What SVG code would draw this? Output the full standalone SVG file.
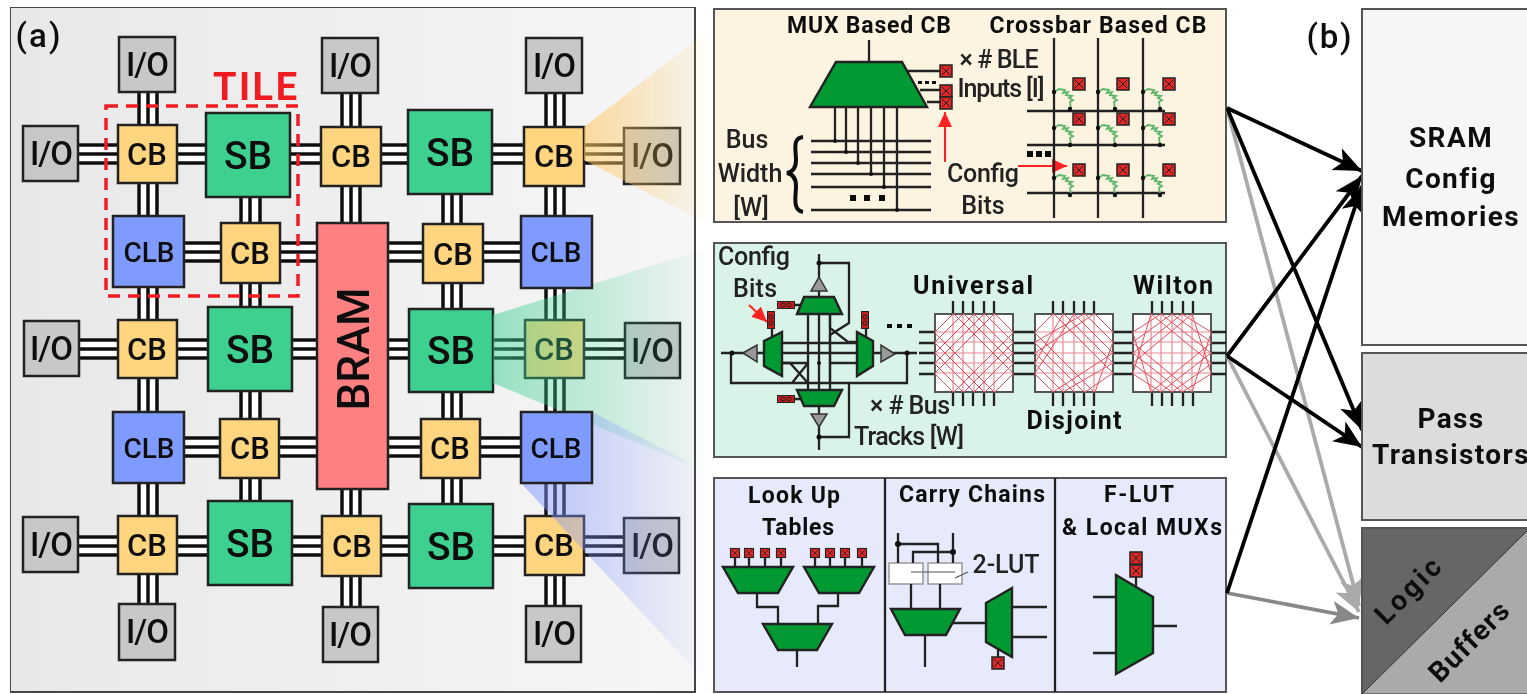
<svg xmlns="http://www.w3.org/2000/svg" width="1527" height="694" viewBox="0 0 1527 694">
<style>
text{font-family:"Roboto","Liberation Sans",sans-serif;fill:#111;text-anchor:middle;font-weight:500}
.n rect{stroke:#222;stroke-width:2.5}
.cb rect{fill:#ffd580}.cb text{font-size:31px}
.sb rect{fill:#3cd08f}.sb text{font-size:39px}
.clb rect{fill:#809bff}.clb text{font-size:28px}
.io rect{fill:#c8c8c8}.io text{font-size:33px;letter-spacing:-1px}
.bus{fill:none;stroke:#111;stroke-width:3.5}
.bg{stroke:#fff;stroke-width:22;fill:none}
.t{font-size:25px;fill:#222}
.h{font-weight:700;font-size:23px}
.h2{font-weight:700;font-size:25px}
.w{fill:none;stroke:#222;stroke-width:2.3}
.mux{fill:#009933;stroke:#222;stroke-width:2.4}
.tri{fill:#999;stroke:#333;stroke-width:1.5}
.panel{stroke:#555;stroke-width:2}
.dot{fill:#111}
.gn{fill:none;stroke:#5cb56a;stroke-width:1.8}
.sw{fill:#fff;stroke:#555;stroke-width:2}
.rd{fill:none;stroke:#e4505e;stroke-width:1}
.gr{fill:none;stroke:#eb8a92;stroke-width:1.2}
.mem{font-weight:700;font-size:28px;letter-spacing:1.4px}
.ar{fill:none;stroke-width:3.8}
.k{stroke:#000}.g{stroke:#aaa}.m{stroke:#888}
</style>
<defs>
<linearGradient id="pa" x1="0" x2="1" y1="0" y2="0"><stop offset="0" stop-color="#e8e8e8"/><stop offset="1" stop-color="#f6f6f6"/></linearGradient>
<linearGradient id="wo" gradientUnits="userSpaceOnUse" x1="584" x2="712" y1="0" y2="0"><stop offset="0" stop-color="#ffc864" stop-opacity=".6"/><stop offset="1" stop-color="#ffc864" stop-opacity="0"/></linearGradient>
<linearGradient id="wg" gradientUnits="userSpaceOnUse" x1="492" x2="712" y1="0" y2="0"><stop offset="0" stop-color="#3cd08f" stop-opacity=".5"/><stop offset="1" stop-color="#3cd08f" stop-opacity="0"/></linearGradient>
<linearGradient id="wb" gradientUnits="userSpaceOnUse" x1="520" x2="712" y1="0" y2="0"><stop offset="0" stop-color="#7f96ff" stop-opacity=".55"/><stop offset="1" stop-color="#7f96ff" stop-opacity="0"/></linearGradient>
<marker id="ak" markerUnits="userSpaceOnUse" markerWidth="32" markerHeight="28" refX="28" refY="14" orient="auto"><path d="M0 2L28 14L0 26L7 14Z" fill="#000"/></marker>
<marker id="ag" markerUnits="userSpaceOnUse" markerWidth="32" markerHeight="28" refX="28" refY="14" orient="auto"><path d="M0 2L28 14L0 26L7 14Z" fill="#aaa"/></marker>
<marker id="am" markerUnits="userSpaceOnUse" markerWidth="32" markerHeight="28" refX="28" refY="14" orient="auto"><path d="M0 2L28 14L0 26L7 14Z" fill="#888"/></marker>
<marker id="ar" markerUnits="userSpaceOnUse" markerWidth="16" markerHeight="14" refX="15" refY="7" orient="auto"><path d="M0 0L15 7L0 14Z" fill="#f22"/></marker>
<g id="bit"><rect x="-6" y="-6" width="12" height="12" fill="#e02828" stroke="#222" stroke-width="1.5"/><path d="M-4 -4L4 4M4 -4L-4 4" stroke="#222" stroke-width="1"/></g>
<g id="sb2"><rect x="-8.500" y="-3.500" width="17" height="7" fill="#c01c1c" stroke="#222"/><circle cx="-3" r="2" fill="none" stroke="#222"/><circle cx="3" r="2" fill="none" stroke="#222"/></g>
<path id="xtor" class="gn" d="M0 0L5 -3L11 -2L9 1L14 0L12 3L18 4L15 6L19 8L16 10L17 17"/>
<path id="grid" class="gr" d="M0 18H78M0 28H78M0 39H78M0 49H78M0 59H78M18 0V78M28 0V78M39 0V78M49 0V78M59 0V78"/>
<path id="uni" class="rd" d="M0 18L18 0M0 28L28 0M0 39L39 0M0 49L49 0M0 59L59 0M78 18L60 0M78 28L50 0M78 39L39 0M78 49L29 0M78 59L19 0M0 60L18 78M0 50L28 78M0 39L39 78M0 29L49 78M0 19L59 78M78 60L60 78M78 50L50 78M78 39L39 78M78 29L29 78M78 19L19 78"/>
<path id="dis" class="rd" d="M0 18L18 0M0 28L49 0M0 39L59 0M0 49L28 0M0 59L39 0M78 49L28 78M78 39L18 78M78 28L60 78M78 59L50 78M78 18L60 0M78 28L50 0M78 39L39 0M78 49L29 0M78 59L19 0M0 60L18 78M0 50L28 78M0 39L39 78M0 29L49 78M0 19L59 78"/>
<path id="wil" class="rd" d="M0 18L28 0M0 28L39 0M0 39L49 0M0 49L59 0M0 59L18 0M78 18L49 0M78 28L39 0M78 39L28 0M78 49L18 0M78 59L59 0M0 60L28 78M0 50L39 78M0 39L49 78M0 29L59 78M0 19L18 78M78 60L49 78M78 50L39 78M78 39L28 78M78 29L18 78M78 19L59 78"/>
<filter id="soft" x="0" y="0" width="100%" height="100%"><feGaussianBlur stdDeviation="0.45"/></filter>
</defs>
<rect width="1527" height="694" fill="#fff"/>
<g filter="url(#soft)">
<rect x="10" y="7" width="685" height="685" fill="url(#pa)" stroke="#444" stroke-width="2"/>

<g id="connectors-a">
<path class="bg" d="M78 154H624M184 252H521M79 349H625M184 447H521M78 546H624M148 92V604M250 197V501M351 93V607M452 194V504M555 93V606"/>
<path class="bus" d="M78 145H624M78 154H624M78 163H624M184 243H521M184 252H521M184 261H521M79 340H625M79 349H625M79 358H625M184 438H521M184 447H521M184 456H521M78 537H624M78 546H624M78 555H624"/>
<path class="bus" d="M139 92V604M148 92V604M157 92V604M241 197V501M250 197V501M260 197V501M342 93V607M351 93V607M360 93V607M443 194V504M452 194V504M461 194V504M546 93V606M555 93V606M564 93V606"/>
</g>

<g id="io-t1" class="n io"><rect x="119" y="37" width="56" height="55"/><text x="147" y="76">I/O</text></g>
<g id="io-t2" class="n io"><rect x="322" y="38" width="56" height="55"/><text x="350" y="77">I/O</text></g>
<g id="io-t3" class="n io"><rect x="526" y="38" width="56" height="55"/><text x="554" y="77">I/O</text></g>
<g id="io-l1" class="n io"><rect x="23" y="126" width="55" height="55"/><text x="51" y="165">I/O</text></g>
<g id="cb-11" class="n cb"><rect x="118" y="125" width="59" height="58"/><text x="147" y="165">CB</text></g>
<g id="sb-11" class="n sb"><rect x="206" y="113" width="84" height="84"/><text x="248" y="169">SB</text></g>
<g id="cb-12" class="n cb"><rect x="321" y="127" width="60" height="59"/><text x="351" y="167">CB</text></g>
<g id="sb-12" class="n sb"><rect x="408" y="110" width="84" height="84"/><text x="450" y="166">SB</text></g>
<g id="cb-13" class="n cb"><rect x="524" y="127" width="60" height="59"/><text x="554" y="167">CB</text></g>
<g id="io-r1" class="n io"><rect x="624" y="128" width="56" height="56"/><text x="652" y="167">I/O</text></g>

<g id="clb-21" class="n clb"><rect x="113" y="216" width="71" height="71"/><text x="149" y="262">CLB</text></g>
<g id="cb-21" class="n cb"><rect x="221" y="223" width="59" height="60"/><text x="250" y="264">CB</text></g>
<g id="bram" class="n"><rect x="317" y="223" width="71" height="266" fill="#ff8080"/><text transform="translate(369 349) rotate(-90)" font-size="44">BRAM</text></g>
<g id="cb-22" class="n cb"><rect x="423" y="224" width="60" height="59"/><text x="453" y="265">CB</text></g>

<g id="io-l3" class="n io"><rect x="24" y="321" width="55" height="55"/><text x="51" y="360">I/O</text></g>
<g id="cb-31" class="n cb"><rect x="118" y="320" width="59" height="58"/><text x="147" y="360">CB</text></g>
<g id="sb-31" class="n sb"><rect x="208" y="307" width="84" height="84"/><text x="250" y="363">SB</text></g>
<g id="sb-32" class="n sb"><rect x="409" y="309" width="84" height="83"/><text x="451" y="364">SB</text></g>
<g id="cb-32" class="n cb"><rect x="525" y="320" width="59" height="58"/><text x="554" y="360">CB</text></g>
<g id="io-r3" class="n io"><rect x="625" y="323" width="55" height="55"/><text x="652" y="362">I/O</text></g>

<g id="clb-41" class="n clb"><rect x="113" y="412" width="71" height="71"/><text x="149" y="458">CLB</text></g>
<g id="cb-41" class="n cb"><rect x="220" y="419" width="59" height="59"/><text x="250" y="459">CB</text></g>
<g id="cb-42" class="n cb"><rect x="421" y="419" width="59" height="59"/><text x="450" y="459">CB</text></g>

<g id="io-l5" class="n io"><rect x="23" y="517" width="55" height="55"/><text x="51" y="556">I/O</text></g>
<g id="cb-51" class="n cb"><rect x="118" y="516" width="59" height="58"/><text x="147" y="556">CB</text></g>
<g id="sb-51" class="n sb"><rect x="208" y="501" width="84" height="84"/><text x="250" y="557">SB</text></g>
<g id="cb-52" class="n cb"><rect x="322" y="516" width="59" height="60"/><text x="352" y="557">CB</text></g>
<g id="sb-52" class="n sb"><rect x="409" y="504" width="84" height="84"/><text x="451" y="560">SB</text></g>
<g id="cb-53" class="n cb"><rect x="525" y="516" width="59" height="59"/><text x="554" y="556">CB</text></g>
<g id="io-r5" class="n io"><rect x="624" y="518" width="55" height="55"/><text x="652" y="557">I/O</text></g>

<g id="io-b1" class="n io"><rect x="119" y="604" width="56" height="56"/><text x="147" y="643">I/O</text></g>
<g id="io-b2" class="n io"><rect x="323" y="607" width="55" height="55"/><text x="350" y="646">I/O</text></g>
<g id="io-b3" class="n io"><rect x="526" y="606" width="55" height="56"/><text x="554" y="645">I/O</text></g>

<path d="M584 127L712 28V226L584 160Z" fill="url(#wo)"/>
<path d="M493 315L712 247V474L493 383Z" fill="url(#wg)"/>
<path d="M521 483L592 412L712 474V688Z" fill="url(#wb)"/>

<g id="clb-22" class="n clb"><rect x="521" y="216" width="71" height="72"/><text x="556" y="262">CLB</text></g>
<g id="clb-42" class="n clb"><rect x="521" y="412" width="71" height="71"/><text x="556" y="458">CLB</text></g>

<rect x="106" y="106" width="192" height="190" fill="none" stroke="#f01c24" stroke-width="3.500" stroke-dasharray="12 8"/>
<text x="255" y="100" font-size="38" font-weight="700" style="fill:#f01c24;font-weight:700" textLength="84">TILE</text>
<text x="38" y="47" font-size="33" textLength="45">(a)</text>

<g id="panel-cb">
<rect class="panel" x="714" y="9" width="512" height="213" fill="#fcf3e0"/>
<text class="h" x="869" y="33" textLength="164">MUX Based CB</text>
<text class="h" x="1098" y="33" textLength="217">Crossbar Based CB</text>
<path class="w" d="M869 40V62M907 71H940M920 90H940M927 102H940"/>
<path class="mux" d="M836 62H902L927 107H810Z"/>
<use href="#bit" x="946" y="71"/><use href="#bit" x="946" y="91"/><use href="#bit" x="946" y="103"/>
<path d="M918 81h4v3h-4zM925 81h4v3h-4zM932 81h4v3h-4z" fill="#111"/>
<path class="w" d="M835 107V141M846 107V152M858 107V163M871 107V174M884 107V187M897 107V210M811 141H931M811 152H931M811 163H931M811 174H931M811 187H931M811 210H931"/>
<circle class="dot" cx="835" cy="141" r="2"/><circle class="dot" cx="846" cy="152" r="2"/><circle class="dot" cx="858" cy="163" r="2"/><circle class="dot" cx="871" cy="174" r="2"/><circle class="dot" cx="884" cy="187" r="2"/><circle class="dot" cx="897" cy="210" r="2"/>
<path d="M850 195h6v6h-6zM864 195h6v6h-6zM879 195h6v6h-6z" fill="#111"/>
<path d="M803 137C792 138 796 150 796 160C796 168 792 172 787 173C792 174 796 178 796 186C796 196 792 210 803 212" fill="none" stroke="#111" stroke-width="4"/>
<text class="t" x="747" y="148">Bus</text><text class="t" x="750" y="182">Width</text><text class="t" x="751" y="216">[W]</text>
<text class="t" x="983" y="182" textLength="72">Config</text><text class="t" x="983" y="214">Bits</text>
<text class="t" x="999" y="68" textLength="79">× # BLE</text><text class="t" x="1001" y="97" textLength="87">Inputs [I]</text>
<path d="M945 162V112" fill="none" stroke="#f22" stroke-width="2" marker-end="url(#ar)"/>
<path d="M1018 166H1067" fill="none" stroke="#f22" stroke-width="2" marker-end="url(#ar)"/>
<path class="w" d="M1054 38V218M1098 38V218M1143 38V218M1027 111H1165M1027 145H1165M1027 193H1165"/>
<path d="M1027 151h6v6h-6zM1036 151h6v6h-6zM1045 151h6v6h-6z" fill="#111"/>
<use href="#xtor" x="1054" y="92"/><use href="#xtor" x="1098" y="92"/><use href="#xtor" x="1143" y="92"/>
<use href="#xtor" x="1054" y="128"/><use href="#xtor" x="1098" y="128"/><use href="#xtor" x="1143" y="128"/>
<use href="#xtor" x="1054" y="178"/><use href="#xtor" x="1098" y="178"/><use href="#xtor" x="1143" y="178"/>
<g fill="#111"><circle cx="1054" cy="92" r="2.200"/><circle cx="1098" cy="92" r="2.200"/><circle cx="1143" cy="92" r="2.200"/><circle cx="1054" cy="128" r="2.200"/><circle cx="1098" cy="128" r="2.200"/><circle cx="1143" cy="128" r="2.200"/><circle cx="1054" cy="178" r="2.200"/><circle cx="1098" cy="178" r="2.200"/><circle cx="1143" cy="178" r="2.200"/><circle cx="1070" cy="109" r="2.200"/><circle cx="1115" cy="109" r="2.200"/><circle cx="1160" cy="109" r="2.200"/><circle cx="1070" cy="145" r="2.200"/><circle cx="1115" cy="145" r="2.200"/><circle cx="1160" cy="145" r="2.200"/><circle cx="1070" cy="195" r="2.200"/><circle cx="1115" cy="195" r="2.200"/><circle cx="1160" cy="195" r="2.200"/></g>
<use href="#bit" x="1079" y="84"/><use href="#bit" x="1123" y="84"/><use href="#bit" x="1169" y="84"/>
<use href="#bit" x="1079" y="119"/><use href="#bit" x="1123" y="119"/><use href="#bit" x="1169" y="119"/>
<use href="#bit" x="1079" y="170"/><use href="#bit" x="1123" y="170"/><use href="#bit" x="1169" y="170"/>
</g>

<g id="panel-sb">
<rect class="panel" x="714" y="243" width="512" height="214" fill="#d9f3e8"/>
<path class="w" d="M808 314V390M819 254V450M830 314V390M782 343H857M721 353H917M782 363H808M830 363H857"/>
<path class="w" d="M819 263H849V323L830 335V383M830 315V328L848 342H857M782 363H790L808 383M731 353V383H907V353M792 383L808 363M849 383V437H819"/>
<path class="tri" d="M819 277L827 291H811Z"/>
<path class="mux" d="M804 297H834L842 314H797Z"/>
<path class="mux" d="M797 390H842L834 406H804Z"/>
<path class="tri" d="M811 414H827L819 427Z"/>
<path class="mux" d="M782 332V376L764 366V341Z"/>
<path class="tri" d="M743 353L757 345V362Z"/>
<path class="mux" d="M857 332V376L873 366V341Z"/>
<path class="tri" d="M895 354L881 345V362Z"/>
<path class="w" d="M795 305H800M795 399H800M772 328V337M866 328V337"/>
<use href="#sb2" x="786" y="305"/><use href="#sb2" x="786" y="399"/>
<use href="#sb2" transform="translate(771 320) rotate(90)"/><use href="#sb2" transform="translate(865 320) rotate(90)"/>
<circle class="dot" cx="819" cy="263" r="2.500"/><circle class="dot" cx="819" cy="437" r="2.500"/><circle class="dot" cx="732" cy="353" r="2.500"/><circle class="dot" cx="907" cy="353" r="2.500"/><circle class="dot" cx="819" cy="363" r="2"/>
<path d="M749 305L767 322" fill="none" stroke="#f22" stroke-width="2" marker-end="url(#ar)"/>
<path d="M887 324h5v4h-5zM897 324h5v4h-5zM907 324h5v4h-5z" fill="#111"/>
<path class="w" d="M919 332H1226M919 343H1226M919 353H1226M919 363H1226M919 374H1226"/>
<path class="w" d="M953 301V406M963 301V406M973 301V406M984 301V406M994 301V406M1053 301V406M1063 301V406M1074 301V406M1084 301V406M1094 301V406M1152 301V406M1162 301V406M1172 301V406M1183 301V406M1193 301V406"/>
<rect class="sw" x="935" y="314" width="78" height="78"/><rect class="sw" x="1035" y="314" width="78" height="78"/><rect class="sw" x="1133" y="314" width="78" height="78"/>
<use href="#grid" x="935" y="314"/><use href="#uni" x="935" y="314"/>
<use href="#grid" x="1035" y="314"/><use href="#dis" x="1035" y="314"/>
<use href="#grid" x="1133" y="314"/><use href="#wil" x="1133" y="314"/>
<text class="t" x="754" y="265" textLength="72">Config</text><text class="t" x="755" y="297" textLength="44">Bits</text>
<text class="h2" x="973" y="294" textLength="120">Universal</text>
<text class="h2" x="1173" y="294" textLength="80">Wilton</text>
<text class="h2" x="1074" y="429" textLength="95">Disjoint</text>
<text class="t" x="910" y="414" textLength="80">× # Bus</text><text class="t" x="909" y="445" textLength="110">Tracks [W]</text>
</g>

<g id="panel-clb">
<rect class="panel" x="714" y="478" width="512" height="214" fill="#e6eafb"/>
<path class="w" d="M885 478V692M1055 478V692"/>
<text class="h" x="794" y="503" textLength="92">Look Up</text><text class="h" x="798" y="535" textLength="72">Tables</text>
<text class="h" x="972" y="502" textLength="146">Carry Chains</text>
<text class="h" x="1139" y="502" textLength="70">F-LUT</text><text class="h" x="1142" y="535" textLength="160">&amp; Local MUXs</text>
<path class="w" d="M735 553V567M749 553V567M765 553V567M781 553V567M815 553V567M830 553V567M845 553V567M862 553V567M757 593V607H778V624M838 593V606H818V624M797 650V667"/>
<path class="mux" d="M723 567H793L778 593H738Z"/><path class="mux" d="M804 567H874L859 593H819Z"/><path class="mux" d="M763 624H832L817 650H778Z"/>
<g transform="translate(735 553) scale(.75)"><use href="#bit"/></g><g transform="translate(749 553) scale(.75)"><use href="#bit"/></g><g transform="translate(765 553) scale(.75)"><use href="#bit"/></g><g transform="translate(781 553) scale(.75)"><use href="#bit"/></g>
<g transform="translate(815 553) scale(.75)"><use href="#bit"/></g><g transform="translate(830 553) scale(.75)"><use href="#bit"/></g><g transform="translate(845 553) scale(.75)"><use href="#bit"/></g><g transform="translate(862 553) scale(.75)"><use href="#bit"/></g>
<rect x="889" y="563" width="34" height="21" fill="#fff" stroke="#999" stroke-width="1.500"/><rect x="928" y="563" width="34" height="21" fill="#fff" stroke="#999" stroke-width="1.500"/>
<path class="w" d="M898 533V563M898 544H938V563M953 533V563M953 552H913V563M911 584V609M940 584V609M925 635V667M953 623H986M1012 607H1047M1012 637H1047M998 647V658"/>
<path d="M911 572H955M955 578L968 572" fill="none" stroke="#555" stroke-width="1.200"/>
<circle class="dot" cx="898" cy="544" r="3"/><circle class="dot" cx="953" cy="552" r="3"/>
<path class="mux" d="M891 609H960L946 635H905Z"/>
<path class="mux" d="M986 603L1012 588V657L986 642Z"/>
<use href="#bit" x="998" y="663"/>
<text class="t" x="1006" y="573" textLength="67">2-LUT</text>
<path class="w" d="M1093 597H1116M1093 653H1116M1153 626H1177M1136 577V586"/>
<path class="mux" d="M1116 575L1153 597V653L1116 674Z"/>
<use href="#bit" x="1136" y="558"/><use href="#bit" x="1136" y="571"/>
</g>

<g id="connectors-b">
<path class="ar g" d="M1227 108L1359 606" marker-end="url(#ag)"/>
<path class="ar g" d="M1227 356L1359 612" marker-end="url(#ag)"/>
<path class="ar m" d="M1227 593L1359 618" marker-end="url(#am)"/>
<path class="ar k" d="M1227 108L1362 171" marker-end="url(#ak)"/>
<path class="ar k" d="M1227 108L1362 430" marker-end="url(#ak)"/>
<path class="ar k" d="M1227 356L1362 176" marker-end="url(#ak)"/>
<path class="ar k" d="M1227 356L1362 447" marker-end="url(#ak)"/>
<path class="ar k" d="M1227 593L1362 186" marker-end="url(#ak)"/>
</g>

<text x="1329" y="48" font-size="33" textLength="45">(b)</text>
<g id="sram"><rect class="panel" x="1362" y="9" width="170" height="336" fill="#f6f6f6"/><text class="mem" x="1451" y="147">SRAM</text><text class="mem" x="1451" y="188">Config</text><text class="mem" x="1451" y="226">Memories</text></g>
<g id="pass"><rect class="panel" x="1362" y="353" width="170" height="167" fill="#dcdcdc"/><text class="mem" x="1451" y="428">Pass</text><text class="mem" x="1451" y="464">Transistors</text></g>
<g id="logic-buffers"><rect class="panel" x="1362" y="528" width="170" height="170" fill="#666"/><path d="M1362 694L1530 528V694Z" fill="#aaa" stroke="#333" stroke-width="1"/>
<text class="mem" transform="translate(1415 597) rotate(-45)" textLength="82">Logic</text><text class="mem" transform="translate(1476 648) rotate(-45)" textLength="102">Buffers</text></g>
</g>
</svg>
